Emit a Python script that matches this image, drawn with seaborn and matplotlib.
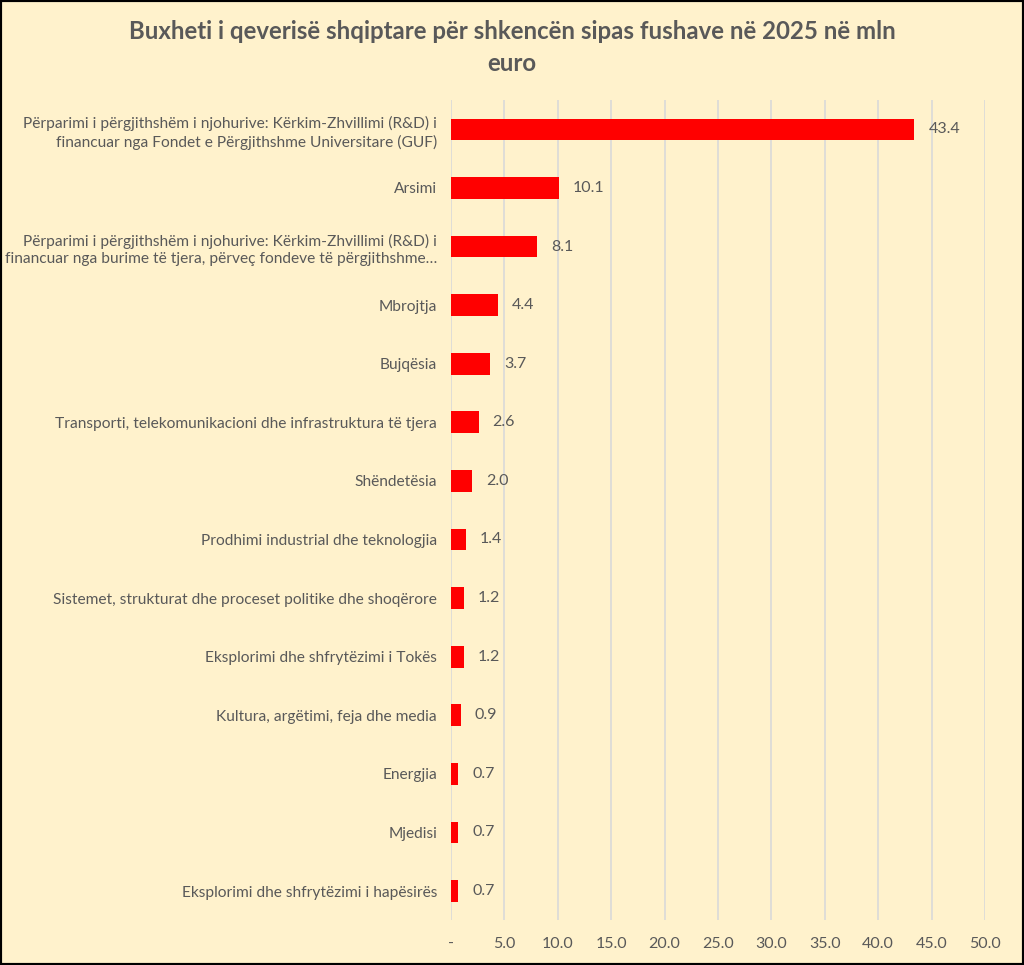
import matplotlib
matplotlib.use("Agg")
import matplotlib.pyplot as plt
import seaborn as sns
import pandas as pd
from matplotlib.patches import Rectangle

# data
categories = [
    "Përparimi i përgjithshëm i njohurive: Kërkim-Zhvillimi (R&D) i\nfinancuar nga Fondet e Përgjithshme Universitare (GUF)",
    "Arsimi",
    "Përparimi i përgjithshëm i njohurive: Kërkim-Zhvillimi (R&D) i\nfinancuar nga burime të tjera, përveç fondeve të përgjithshme…",
    "Mbrojtja",
    "Bujqësia",
    "Transporti, telekomunikacioni dhe infrastruktura të tjera",
    "Shëndetësia",
    "Prodhimi industrial dhe teknologjia",
    "Sistemet, strukturat dhe proceset politike dhe shoqërore",
    "Eksplorimi dhe shfrytëzimi i Tokës",
    "Kultura, argëtimi, feja dhe media",
    "Energjia",
    "Mjedisi",
    "Eksplorimi dhe shfrytëzimi i hapësirës",
]
values = [43.4, 10.1, 8.1, 4.4, 3.7, 2.6, 2.0, 1.4, 1.2, 1.2, 0.9, 0.7, 0.7, 0.7]
x_ticks = [0, 5, 10, 15, 20, 25, 30, 35, 40, 45, 50]
x_tick_labels = ["-", "5.0", "10.0", "15.0", "20.0", "25.0", "30.0", "35.0", "40.0", "45.0", "50.0"]
title = "Buxheti i qeverisë shqiptare për shkencën sipas fushave në 2025 në mln\neuro"

df = pd.DataFrame({"Fusha": categories, "Vlera": values})

BG = "#FFF2CC"
TEXT = "#595959"
FONT = ["Lato", "DejaVu Sans"]

sns.set_theme(style="white")
plt.rcParams["font.family"] = FONT

fig = plt.figure(figsize=(10.24, 9.65), dpi=100, facecolor=BG)
ax = fig.add_axes([0.4404, 0.0463, 0.5215, 0.850])
ax.set_facecolor(BG)

sns.barplot(data=df, x="Vlera", y="Fusha", orient="h", color="#FF0000",
            width=0.37, saturation=1, linewidth=0, ax=ax)

ax.set_xlim(0, 50)
ax.set_xticks(x_ticks)
ax.set_xticklabels(x_tick_labels, fontsize=11.5, color=TEXT)
ax.tick_params(axis="x", length=0, pad=12)
ax.tick_params(axis="y", length=0, pad=10)
for lbl in ax.get_yticklabels():
    lbl.set_fontsize(11.2)
    lbl.set_color(TEXT)
    lbl.set_multialignment("right")
    lbl.set_linespacing(1.35)
ax.set_xlabel("")
ax.set_ylabel("")
ax.grid(axis="x", color="#D9D9D9", linewidth=1.2)
ax.set_axisbelow(True)
for s in ax.spines.values():
    s.set_visible(False)

for i, v in enumerate(values):
    ax.annotate(f"{v:.1f}", xy=(v, i), xytext=(10, 0), textcoords="offset points",
                ha="left", va="center", fontsize=11.5, color=TEXT)

fig.text(0.5, 0.951, title, ha="center", va="center", fontsize=17.3,
         fontweight="bold", color=TEXT, linespacing=1.45)

fig.patches.append(Rectangle((0, 0), 1, 1, transform=fig.transFigure,
                             fill=False, edgecolor="black", linewidth=3))

fig.savefig("out.png", dpi=100, facecolor=BG)
